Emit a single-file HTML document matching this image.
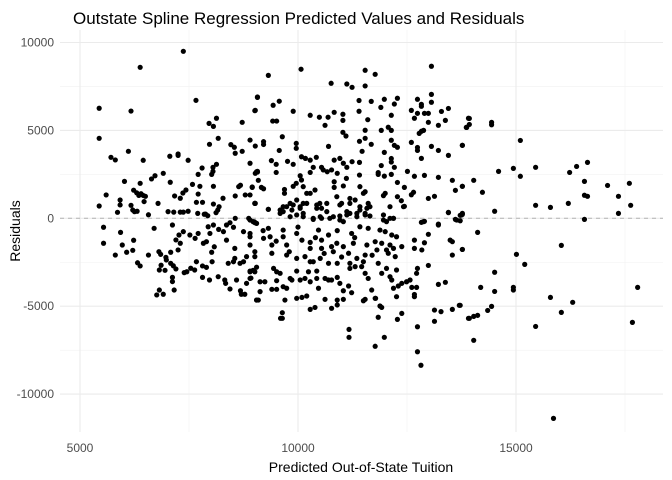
<!DOCTYPE html>
<html>
<head>
<meta charset="utf-8">
<style>
html,body{margin:0;padding:0;background:#fff;}
svg{display:block;font-family:"Liberation Sans",Arial,sans-serif;}
</style>
</head>
<body>
<svg id="chart" width="672" height="480" viewBox="0 0 672 480">
  <rect x="0" y="0" width="672" height="480" fill="#fff"/>
  <g id="grid"></g>
  <line id="zero" stroke="#b3b3b3" stroke-width="1" stroke-dasharray="4,4"/>
  <g id="pts"></g>
  <g id="ticks"></g>
  <text x="73" y="24" font-size="17" fill="#000">Outstate Spline Regression Predicted Values and Residuals</text>
  <text x="361" y="472" font-size="14" fill="#000" text-anchor="middle">Predicted Out-of-State Tuition</text>
  <text x="0" y="0" font-size="14" fill="#000" text-anchor="middle" transform="translate(20,231) rotate(-90)">Residuals</text>
</svg>
<script>
const xMajorTicks=[5000,10000,15000];
const xMinorTicks=[7500,12500,17500];
const yMajorTicks=[-10000,-5000,0,5000,10000];
const yMinorTicks=[-7500,-2500,2500,7500];
const xTickLabels=["5000","10000","15000"];
const yTickLabels=["-10000","-5000","0","5000","10000"];
// values in thousands of dollars
const predictedK=[
7.37,6.38,5.44,6.17,7.66,5.44,7.96,8.06,8.13,5.71,5.81,6.11,6.45,7.06,7.25,7.25,7.48,7.97,8.17,8.46,8.54,8.56,8.72,8.72,8.9,9.02,9.01,9.07,6.02,5.6,
5.44,5.92,5.92,5.86,6.17,6.21,6.25,6.31,6.23,6.3,6.35,6.4,6.45,6.5,6.47,6.38,6.57,6.64,6.72,6.91,6.79,7.07,7.17,7.3,7.36,7.43,7.02,7.15,7.3,7.37,
7.48,7.58,7.71,7.8,7.75,7.71,7.67,7.81,8.02,8.05,8.13,8.05,8.06,8.06,8.12,8.19,8.16,8.28,7.7,7.85,7.88,7.93,8.56,8.64,8.68,8.56,8.79,8.9,8.95,9.01,
9.07,9.09,9.05,8.87,8.9,9.0,
5.54,5.54,5.93,5.81,5.97,6.07,6.21,6.23,6.32,6.38,6.57,6.7,6.81,6.85,6.97,7.08,6.98,7.08,7.14,6.82,6.95,6.86,7.12,7.12,7.16,6.82,6.76,6.91,7.2,7.25,
7.3,7.2,7.12,7.27,7.37,7.39,7.45,7.54,7.63,7.67,7.81,7.97,7.81,7.9,8.03,8.08,8.02,7.52,7.64,7.71,7.83,7.9,7.98,7.94,8.06,8.18,8.29,8.36,8.52,8.44,
8.17,8.32,8.34,8.44,8.59,8.68,8.7,8.78,8.82,8.9,8.97,9.05,8.92,9.05,8.4,8.52,8.55,8.67,8.75,8.82,8.36,8.55,8.75,8.9,8.9,9.05,8.97,
9.32,10.07,10.76,11.12,11.24,11.54,11.77,11.54,13.06,13.06,13.06,9.07,9.02,9.43,9.57,9.42,9.51,9.89,10.28,10.49,10.69,10.62,10.83,11.03,11.03,11.03,11.1,11.4,11.4,11.54,
11.54,11.68,11.6,11.41,11.47,11.68,11.9,11.98,12.14,12.21,12.28,11.91,12.07,12.14,12.14,12.21,12.28,11.98,11.91,12.14,12.14,12.21,12.14,11.98,11.84,11.84,12.28,12.28,12.37,12.44,
12.44,12.51,12.65,12.6,12.67,12.9,12.99,13.13,13.22,13.45,13.54,13.61,13.77,13.77,13.45,13.22,13.06,12.83,12.74,12.74,12.6,12.78,12.83,12.88,12.99,13.22,13.38,13.29,13.45,12.67,
12.6,12.74,12.83,12.83,12.74,12.9,12.99,13.91,13.86,13.61,13.72,13.77,12.83,12.9,13.22,
9.21,9.21,9.64,9.57,9.96,9.96,10.08,10.17,10.28,10.42,10.7,9.39,9.5,9.76,9.89,8.9,9.07,9.02,9.5,8.95,9.16,9.21,9.02,9.32,9.69,9.69,9.89,9.96,10.05,10.08,
10.28,10.35,10.54,10.58,10.67,10.77,10.96,11.04,11.12,11.24,11.41,10.83,10.9,11.11,11.41,10.83,11.04,10.83,10.12,10.2,10.28,10.39,9.82,9.97,10.05,10.12,9.59,9.66,9.74,9.86,
10.43,10.54,10.66,10.5,10.89,11.0,11.12,11.19,11.31,11.42,11.5,11.54,11.61,11.65,11.96,12.0,12.11,11.42,11.54,11.19,10.81,10.96,11.04,11.35,10.35,10.54,10.12,11.96,12.03,12.19,
9.66,9.89,10.05,10.2,10.43,10.66,10.96,11.19,11.42,11.58,12.42,9.01,9.32,9.59,9.82,9.97,10.12,10.35,10.51,10.73,10.96,11.12,11.35,11.54,11.65,11.96,12.11,12.19,12.88,13.22,
13.45,13.64,13.75,
9.01,8.9,9.21,9.36,9.4,9.4,9.01,9.01,9.32,9.66,9.66,9.74,9.74,9.97,10.09,9.97,10.16,10.28,10.28,10.28,10.35,10.47,10.51,10.54,10.54,10.7,10.7,10.77,10.81,10.89,
10.9,11.04,11.16,11.19,11.23,11.27,11.35,11.42,11.5,11.54,11.58,11.61,11.77,11.81,11.84,11.88,11.92,12.0,12.03,12.07,12.11,12.15,12.19,12.26,12.23,12.38,12.67,12.67,12.84,12.9,
12.99,12.99,13.49,13.54,13.54,13.77,9.5,9.8,10.0,10.6,10.9,11.3,11.7,9.2,10.4,11.0,
8.9,9.01,8.9,9.13,9.24,9.44,9.51,9.59,9.51,9.4,9.51,9.66,9.74,9.82,9.86,9.97,10.05,10.16,10.24,10.28,10.43,10.43,10.47,10.62,10.7,10.77,10.9,10.96,11.04,11.16,
11.23,11.19,11.31,11.46,11.54,11.61,11.69,11.77,11.92,12.03,12.11,12.15,12.19,12.26,12.3,12.38,12.49,12.57,12.61,12.67,12.67,12.72,12.74,12.72,13.22,13.38,9.13,9.09,9.05,9.7,
9.97,10.09,10.2,10.28,10.39,10.62,10.77,10.9,10.9,11.04,11.5,11.54,11.78,11.88,11.92,12.26,9.64,9.6,9.64,11.84,12.28,12.38,12.74,13.13,13.28,13.13,13.54,13.7,13.91,11.17,
11.17,11.98,11.77,12.74,12.82,
13.93,13.93,13.87,14.44,14.44,13.77,15.1,13.77,14.03,14.23,14.6,14.94,15.1,15.45,15.45,15.79,16.2,16.23,16.39,16.64,16.57,16.57,16.64,16.57,17.1,17.35,17.6,17.63,17.35,14.51,
13.77,13.72,
14.12,13.77,14.51,14.19,14.51,13.72,13.93,14.03,14.12,14.35,14.44,14.03,15.01,15.2,14.94,14.94,15.45,15.79,16.04,16.04,16.3,15.86,17.79,17.67
];
const residualK=[
9.5,8.59,6.26,6.1,6.71,4.55,5.4,5.23,5.69,3.47,3.32,3.81,3.3,3.53,3.58,3.66,3.3,4.21,4.55,4.19,4.04,3.7,5.46,3.81,4.45,4.11,6.12,6.9,2.1,1.33,
0.7,1.04,0.76,0.34,0.74,0.47,0.38,0.4,1.6,1.45,1.3,1.4,1.3,1.25,0.95,1.99,0.2,2.24,2.42,2.56,0.85,2.05,1.27,1.14,1.44,1.61,0.38,0.35,0.35,0.35,
0.4,1.93,2.5,2.86,1.82,1.38,0.91,0.91,2.5,2.9,3.07,2.67,1.82,0.81,0.32,0.66,0.47,1.14,0.28,0.23,0.24,0.15,1.27,1.8,1.88,0.0,1.33,1.33,1.76,0.85,
2.63,2.16,2.65,0.0,-0.1,-0.2,
-0.51,-1.42,-0.8,-2.09,-1.52,-1.93,-1.82,-1.25,-2.53,-2.71,-2.09,-0.57,-1.9,-2.05,-2.22,-1.93,-2.37,-2.56,-2.7,-2.94,-2.96,-2.67,-3.36,-3.6,-4.08,-4.08,-4.36,-4.32,-2.88,-1.8,
-1.42,-1.23,-0.38,-0.95,-0.76,-3.09,-3.04,-2.84,-2.94,-2.47,-3.36,-3.51,-2.71,-2.79,-2.47,-1.62,-1.93,-0.95,-1.14,-0.86,-1.42,-1.33,-0.86,-0.48,-0.38,-0.63,-0.76,-0.38,-0.51,-0.25,
-3.32,-3.51,-3.7,-4.02,-3.51,-4.12,-4.32,-4.32,-3.7,-3.0,-2.96,-2.78,-3.4,-4.65,-2.56,-2.47,-2.28,-2.56,-2.47,-2.18,-1.24,-1.71,-0.76,-1.05,-1.52,-0.29,-0.19,
8.13,8.48,7.68,7.64,7.45,8.42,8.19,7.53,8.65,7.05,6.6,6.88,6.14,6.43,6.66,5.53,5.53,6.09,5.86,5.75,5.75,5.29,6.03,5.92,5.57,4.89,4.68,6.7,6.09,5.01,
4.55,6.65,5.61,4.38,3.81,4.21,6.31,6.77,5.86,6.5,6.83,5.0,5.18,5.0,4.44,4.15,4.04,3.75,3.0,3.4,3.2,2.9,2.5,2.4,2.5,2.6,2.04,1.23,1.0,0.68,
1.76,2.67,1.48,1.34,2.39,2.44,1.13,1.25,2.33,0.34,2.16,1.59,1.82,4.15,3.58,3.86,4.09,3.41,3.86,4.03,4.32,4.83,4.95,5.0,5.46,5.29,5.57,6.08,6.25,5.69,
6.14,6.77,6.48,6.37,5.97,5.97,5.97,5.69,5.17,-0.06,0.17,0.28,-0.23,-0.17,-0.38,
4.36,4.2,4.64,3.86,4.26,3.98,3.5,3.41,3.31,3.47,4.09,3.28,3.07,3.24,3.07,3.13,2.67,2.56,2.61,1.78,1.76,1.68,0.85,0.51,1.64,1.42,1.82,1.99,2.42,2.18,
2.61,2.9,2.9,2.75,2.65,2.75,3.41,3.13,2.9,3.22,3.18,3.31,2.56,2.27,2.46,2.08,1.84,1.76,1.8,1.42,1.42,1.61,0.85,1.04,0.66,0.85,0.47,0.38,0.66,0.47,
0.76,0.57,0.38,0.85,1.23,0.85,0.38,1.13,1.04,1.8,1.42,1.51,0.85,0.66,1.29,1.42,0.66,0.47,0.28,0.28,0.09,-0.1,-0.19,0.09,0.0,0.0,0.09,-0.1,-0.19,0.0,
0.66,0.76,0.57,0.85,0.57,0.85,0.76,0.85,0.66,0.57,0.66,0.85,0.51,0.28,0.09,0.19,0.28,-0.06,0.09,0.0,0.13,0.19,0.28,0.19,0.13,0.19,0.0,0.0,-0.19,-0.33,
0.32,-0.1,0.19,
-0.25,-0.86,-1.14,-1.05,-1.52,-1.99,-1.9,-2.18,-0.57,-0.67,-1.05,-1.52,-2.09,-0.86,-1.24,-2.28,-2.18,-1.37,-1.71,-2.47,-2.47,-0.67,-2.28,-1.24,-1.71,-0.95,-2.56,-1.61,-1.9,-1.42,
-2.56,-1.61,-1.99,-2.56,-0.86,-1.42,-2.28,-0.48,-2.47,-2.09,-1.52,-0.57,-1.33,-1.8,-2.56,-0.67,-1.42,-0.76,-1.8,-1.99,-1.52,-0.95,-1.71,-1.05,-2.18,-1.61,-1.24,-1.71,-1.8,-1.39,
-0.91,-2.68,-1.24,-1.33,-2.09,-1.77,-1.3,-1.9,-0.5,-2.0,-0.7,-1.1,-2.1,-0.7,-1.1,-2.2,
-3.04,-3.04,-3.42,-3.61,-3.61,-2.85,-3.04,-3.13,-3.55,-4.04,-4.04,-3.89,-3.98,-3.42,-3.51,-3.0,-3.51,-3.42,-3.04,-3.61,-3.0,-3.42,-3.98,-3.42,-3.51,-3.51,-3.36,-3.7,-4.12,-3.85,
-4.23,-2.85,-2.75,-2.75,-3.13,-3.42,-4.08,-4.55,-3.13,-2.85,-3.32,-3.51,-3.98,-2.94,-3.85,-3.7,-3.61,-3.51,-3.93,-4.33,-4.46,-3.93,-2.85,-3.13,-3.76,-3.64,-4.17,-4.65,-4.65,-4.65,
-4.55,-4.5,-4.42,-5.18,-5.07,-4.61,-5.12,-4.65,-4.93,-4.61,-4.69,-4.61,-4.55,-4.99,-5.07,-4.46,-5.37,-5.69,-5.69,-5.63,-5.75,-5.41,-6.17,-5.22,-5.31,-5.86,-5.18,-4.95,-5.69,-6.32,
-6.77,-6.77,-7.28,-7.59,-8.36,
5.68,5.34,5.17,5.46,5.32,4.15,4.43,1.82,2.16,1.48,2.67,2.84,2.39,2.9,0.74,0.62,0.85,2.61,2.95,3.18,2.1,1.31,1.25,-0.06,1.87,1.25,1.99,0.74,0.28,0.4,
0.22,-0.14,
-0.8,-1.77,-3.07,-3.93,-4.16,-4.95,-5.69,-5.58,-5.52,-5.24,-5.01,-6.94,-2.05,-2.62,-3.93,-4.08,-6.15,-4.5,-1.54,-5.35,-4.78,-11.38,-3.93,-5.92
];

const X0=80, XS=218/5000, Y0=218.3, YS=87.9/5000;
function xScale(v){return X0+(v-5000)*XS;}
function yScale(v){return Y0-v*YS;}
const PL=60, PR=663, PT=30, PB=432;
const NS='http://www.w3.org/2000/svg';
const grid=document.getElementById('grid');
function gl(x1,y1,x2,y2,w,c,name){
  const l=document.createElementNS(NS,'line');
  l.setAttribute('x1',x1);l.setAttribute('y1',y1);l.setAttribute('x2',x2);l.setAttribute('y2',y2);
  l.setAttribute('stroke',c);l.setAttribute('stroke-width',w);
  
  
  grid.appendChild(l);
}
xMinorTicks.forEach(v=>gl(xScale(v),PT,xScale(v),PB,0.6,'#f2f2f2','x-minor-gridline'));
yMinorTicks.forEach(v=>gl(PL,yScale(v),PR,yScale(v),0.6,'#f2f2f2','y-minor-gridline'));
xMajorTicks.forEach(v=>gl(xScale(v),PT,xScale(v),PB,1.1,'#ebebeb','x-major-gridline'));
yMajorTicks.forEach(v=>gl(PL,yScale(v),PR,yScale(v),1.1,'#ebebeb','y-major-gridline'));
const z=document.getElementById('zero');
z.setAttribute('x1',PL);z.setAttribute('x2',PR);z.setAttribute('y1',yScale(0));z.setAttribute('y2',yScale(0));

const ticks=document.getElementById('ticks');
xMajorTicks.forEach((v,i)=>{
  const t=document.createElementNS(NS,'text');
  t.setAttribute('x',xScale(v));t.setAttribute('y',452);
  t.setAttribute('text-anchor','middle');t.setAttribute('font-size','12');t.setAttribute('fill','#4d4d4d');
  t.textContent=xTickLabels[i];
  
  
  ticks.appendChild(t);
});
yMajorTicks.forEach((v,i)=>{
  const t=document.createElementNS(NS,'text');
  t.setAttribute('x',54);t.setAttribute('y',yScale(v)+4);
  t.setAttribute('text-anchor','end');t.setAttribute('font-size','12');t.setAttribute('fill','#4d4d4d');
  t.textContent=yTickLabels[i];
  
  
  ticks.appendChild(t);
});

const pts=document.getElementById('pts');
const n=Math.min(predictedK.length,residualK.length);
for(let i=0;i<n;i++){
  const c=document.createElementNS(NS,'circle');
  c.setAttribute('cx',xScale(predictedK[i]*1000));
  c.setAttribute('cy',yScale(residualK[i]*1000));
  c.setAttribute('r',2.6);
  c.setAttribute('fill','#000');
  
  
  pts.appendChild(c);
}
</script>
</body>
</html>
